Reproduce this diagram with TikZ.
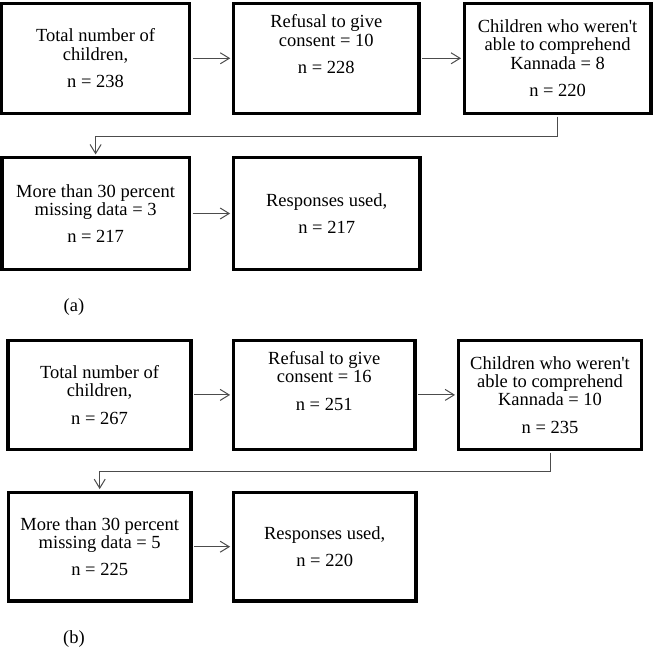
\documentclass[tikz,border=0pt]{standalone}
\usepackage{fontspec}
\setmainfont{Liberation Serif}
\usetikzlibrary{arrows.meta}
\begin{document}
\begin{tikzpicture}[x=1pt,y=-1pt,
  bx/.style={draw=black, line width=3.3pt, inner sep=0pt, align=center,
    font=\fontsize{18.5}{18.3}\selectfont},
  conn/.style={draw=black!70, line width=1pt, -{Straight Barb[length=9pt,width=11pt]},
    shorten <=1.6pt, shorten >=1.6pt},
  lab/.style={font=\fontsize{18.5}{18.3}\selectfont, inner sep=0pt}]
\useasboundingbox (0,0) rectangle (653,647);
% panel (a)
\node[bx, minimum width=188pt, minimum height=110pt] (a1) at (95.5,58.3)
  {Total number of\\children,\\[9pt]n = 238};
\node[bx, minimum width=185.5pt, minimum height=110pt] (a2) at (326.25,58.3)
  {Refusal to give\\consent = 10\\[9pt]n = 228\\[10pt]\mbox{}};
\node[bx, minimum width=186.7pt, minimum height=110pt] (a3) at (557.6,58.3)
  {Children who weren\textquotesingle t\\able to comprehend\\Kannada = 8\\[9pt]n = 220};
\node[bx, minimum width=187.3pt, minimum height=111.6pt] (a4) at (95.6,213.5)
  {More than 30 percent\\missing data = 3\\[9pt]n = 217};
\node[bx, minimum width=186.7pt, minimum height=111.6pt] (a5) at (326.7,213.5)
  {Responses used,\\[9pt]n = 217};
\draw[conn] (a1.east) -- (a2.west);
\draw[conn] (a2.east) -- (a3.west);
\draw[conn] (a4.east) -- (a5.west);
\draw[conn] (a3.south) -- ++(0,21.7) -| (a4.north);
\node[lab] (la) at (74,307) {(a)};
% panel (b)
\node[bx, minimum width=183pt, minimum height=108.8pt] (b1) at (99.5,394.9)
  {Total number of\\children,\\[9pt]n = 267};
\node[bx, minimum width=181.7pt, minimum height=108.8pt] (b2) at (324.2,394.9)
  {Refusal to give\\consent = 16\\[9pt]n = 251\\[10pt]\mbox{}};
\node[bx, minimum width=183.4pt, minimum height=108.8pt] (b3) at (550,394.9)
  {Children who weren\textquotesingle t\\able to comprehend\\Kannada = 10\\[9pt]n = 235};
\node[bx, minimum width=182.7pt, minimum height=108.7pt] (b4) at (99.7,546.7)
  {More than 30 percent\\missing data = 5\\[9pt]n = 225};
\node[bx, minimum width=182.7pt, minimum height=108.7pt] (b5) at (324.7,546.7)
  {Responses used,\\[9pt]n = 220};
\draw[conn] (b1.east) -- (b2.west);
\draw[conn] (b2.east) -- (b3.west);
\draw[conn] (b4.east) -- (b5.west);
\draw[conn] (b3.south) -- ++(0,20.7) -| (b4.north);
\node[lab] (lb) at (74,639) {(b)};
\end{tikzpicture}
\end{document}
